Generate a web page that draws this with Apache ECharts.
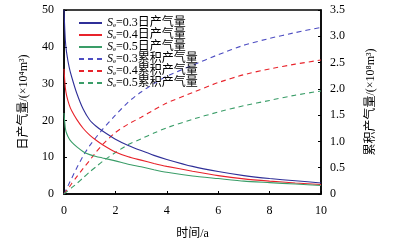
<!DOCTYPE html>
<html>
<head>
<meta charset="utf-8">
<script src="https://cdn.jsdelivr.net/npm/echarts@6/dist/echarts.min.js"></script>
<style>
  html, body { margin: 0; padding: 0; background: #fff; }
  #chart { width: 408px; height: 247px; }
</style>
</head>
<body>
<div id="chart"></div>
<script>
// 时间 (a)
const years = [0, 0.05, 0.1, 0.2, 0.3, 0.5, 0.75, 1, 1.25, 1.5, 2, 2.5, 3, 3.5, 4, 5, 6, 7, 8, 9, 10];
// 日产气量 (×10^4 m3)
const daily03 = [50, 42, 38.5, 34.5, 31.8, 27.3, 23.0, 20.1, 18.4, 17.1, 14.9, 13.2, 11.8, 10.5, 9.4, 7.5, 6.1, 5.0, 4.2, 3.6, 3.0];
const daily04 = [34, 29, 26.8, 24.3, 22.6, 20.2, 17.8, 16.0, 14.6, 13.4, 11.4, 10.1, 9.2, 8.3, 7.5, 6.2, 5.0, 4.1, 3.5, 3.0, 2.6];
const daily05 = [22, 18, 16.5, 15, 14.1, 12.8, 11.5, 10.7, 10.2, 9.8, 9.0, 8.1, 7.4, 6.6, 5.9, 4.9, 4.2, 3.5, 3.1, 2.7, 2.3];
// 累积产气量 (×10^8 m3)
const cum03 = [0, 0.05, 0.1, 0.2, 0.3, 0.5, 0.73, 0.92, 1.08, 1.23, 1.5, 1.75, 1.94, 2.1, 2.24, 2.45, 2.65, 2.83, 2.96, 3.07, 3.17];
const cum04 = [0, 0.03, 0.065, 0.13, 0.2, 0.33, 0.49, 0.64, 0.8, 0.94, 1.17, 1.33, 1.46, 1.6, 1.73, 1.93, 2.12, 2.27, 2.38, 2.47, 2.55];
const cum05 = [0, 0.02, 0.04, 0.08, 0.12, 0.2, 0.31, 0.42, 0.52, 0.62, 0.79, 0.94, 1.05, 1.16, 1.26, 1.42, 1.56, 1.68, 1.78, 1.88, 1.96];

const xTicks = [0, 10, 2];
const leftTicks = [0, 50, 10];
const rightTicks = [0, 3.5, 0.5];

const names = [
  "Se=0.3日产气量", "Se=0.4日产气量", "Se=0.5日产气量",
  "Se=0.3累积产气量", "Se=0.4累积产气量", "Se=0.5累积产气量"
];

const serif = "'Liberation Serif', 'Times New Roman', 'Noto Sans CJK SC', serif";
const colors = {
  blue: "#2f2f98", blueDash: "#4d4dc2",
  red: "#e8232b", green: "#3a9d68"
};

function pairs(ys) {
  return years.map((x, i) => [x, ys[i]]);
}

function makeSeries(name, ys, color, dashed, yIdx) {
  return {
    name: name,
    type: "line",
    yAxisIndex: yIdx,
    smooth: 0.2,
    symbol: "none",
    data: pairs(ys),
    lineStyle: { color: color, width: 1.1, type: dashed ? [5, 4] : "solid" },
    itemStyle: { color: color },
    z: dashed ? 2 : 3
  };
}

let myChart = echarts.init(document.getElementById("chart"));
let option = {
  animation: false,
  textStyle: { fontFamily: serif },
  grid: {
    left: 64, right: 87, top: 10, bottom: 53,
    show: true, borderColor: "#000", borderWidth: 1.5, backgroundColor: "transparent"
  },
  legend: {
    orient: "vertical",
    left: 73,
    top: 12,
    itemWidth: 23,
    itemHeight: 2,
    itemGap: 0,
    data: names,
    formatter: n => n.replace("Se", "{i|S}{s|e}"),
    itemStyle: { opacity: 0 },
    textStyle: {
      fontFamily: serif,
      fontSize: 12,
      color: "#000",
      lineHeight: 12,
      rich: {
        i: { fontFamily: serif, fontStyle: "italic", fontSize: 12, color: "#000", lineHeight: 12 },
        s: { fontFamily: serif, fontSize: 7, color: "#000", lineHeight: 12, padding: [5, 0, 0, 0] }
      }
    }
  },
  xAxis: {
    type: "value",
    min: xTicks[0], max: xTicks[1], interval: xTicks[2],
    name: "时间/a",
    nameLocation: "middle",
    nameGap: 34,
    nameTextStyle: { fontFamily: serif, fontSize: 12, color: "#000" },
    axisLine: { lineStyle: { color: "#000", width: 1.5 } },
    axisTick: { inside: true, length: 3, lineStyle: { color: "#000" } },
    axisLabel: { fontFamily: serif, fontSize: 12, color: "#000", margin: 11 },
    splitLine: { show: false }
  },
  yAxis: [
    {
      type: "value",
      min: leftTicks[0], max: leftTicks[1], interval: leftTicks[2],
      name: "日产气量/(×10⁴m³)",
      nameLocation: "middle",
      nameRotate: 90,
      nameGap: 34,
      nameTextStyle: { fontFamily: serif, fontSize: 12, color: "#000" },
      axisLine: { show: true, lineStyle: { color: "#000", width: 1.5 } },
      axisTick: { show: true, inside: true, length: 3, lineStyle: { color: "#000" } },
      axisLabel: { fontFamily: serif, fontSize: 12, color: "#000", margin: 10 },
      splitLine: { show: false }
    },
    {
      type: "value",
      position: "right",
      min: rightTicks[0], max: rightTicks[1], interval: rightTicks[2],
      name: "累积产气量/(×10⁸m³)",
      nameLocation: "middle",
      nameRotate: 90,
      nameGap: 44,
      nameTextStyle: { fontFamily: serif, fontSize: 12, color: "#000" },
      axisLine: { show: true, lineStyle: { color: "#000", width: 1.5 } },
      axisTick: { show: true, inside: true, length: 3, lineStyle: { color: "#000" } },
      axisLabel: {
        fontFamily: serif, fontSize: 12, color: "#000", margin: 9,
        formatter: v => v === 0 ? "0" : v.toFixed(1)
      },
      splitLine: { show: false }
    }
  ],
  series: [
    makeSeries(names[0], daily03, colors.blue, false, 0),
    makeSeries(names[1], daily04, colors.red, false, 0),
    makeSeries(names[2], daily05, colors.green, false, 0),
    makeSeries(names[3], cum03, colors.blueDash, true, 1),
    makeSeries(names[4], cum04, colors.red, true, 1),
    makeSeries(names[5], cum05, colors.green, true, 1)
  ]
};
myChart.setOption(option);
</script>
</body>
</html>
